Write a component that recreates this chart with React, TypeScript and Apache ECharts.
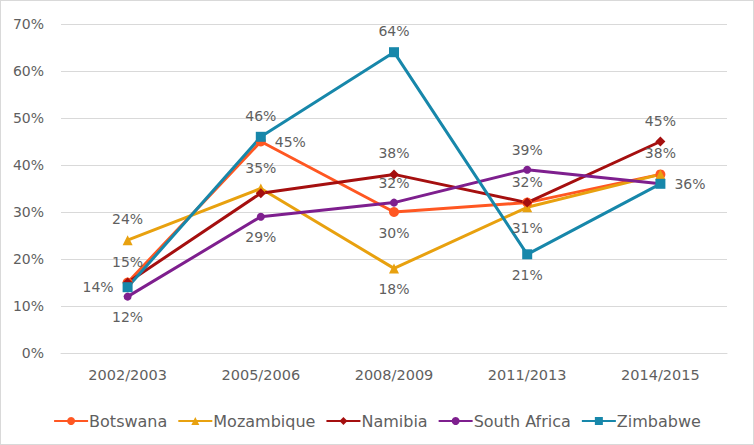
import React, { useEffect, useRef } from "react";
import * as echarts from "echarts";

const categories = ["2002/2003", "2005/2006", "2008/2009", "2011/2013", "2014/2015"];
const botswana = [15, 45, 30, 32, 38];
const mozambique = [24, 35, 18, 31, 38];
const namibia = [15, 34, 38, 32, 45];
const southAfrica = [12, 29, 32, 39, 36];
const zimbabwe = [14, 46, 64, 21, 36];

// label placement per point ("" = hidden)
const botswanaLabels = ["", "right", "bottom", "", "top"];
const mozambiqueLabels = ["top", "top", "bottom", "bottom", ""];
const namibiaLabels = ["top", "", "top", "top", "top"];
const southAfricaLabels = ["bottom", "bottom", "top", "top", ""];
const zimbabweLabels = ["left", "top", "top", "bottom", "right"];

const FONT = "'DejaVu Sans', sans-serif";
const TEXT = "#5f5f5f";

function build(name: string, values: number[], labels: string[], color: string, symbol: string, size: number) {
  return {
    name,
    type: "line",
    data: values.map((v, i) => ({
      value: v,
      label: labels[i]
        ? { show: true, position: labels[i], formatter: "{c}%", distance: 9 }
        : { show: false },
    })),
    symbol,
    symbolSize: size,
    itemStyle: { color },
    lineStyle: { color, width: 3 },
    label: { color: TEXT, fontSize: 14, fontFamily: FONT },
  };
}

export default function App() {
  const ref = useRef<HTMLDivElement>(null);
  useEffect(() => {
    const chart = echarts.init(ref.current!, null, { renderer: "svg" });
    chart.setOption({
      animation: false,
      backgroundColor: "#ffffff",
      grid: { left: 60, right: 26, top: 23, bottom: 91 },
      legend: {
        bottom: 10,
        left: "center",
        itemWidth: 34,
        itemHeight: 10,
        itemGap: 10,
        textStyle: { color: TEXT, fontSize: 16, fontFamily: FONT, padding: [0, 0, 0, -4] },
        data: ["Botswana", "Mozambique", "Namibia", "South Africa", "Zimbabwe"],
      },
      xAxis: {
        type: "category",
        data: categories,
        boundaryGap: true,
        axisLine: { lineStyle: { color: "#d9d9d9" } },
        axisTick: { show: false },
        axisLabel: { color: TEXT, fontSize: 14.5, fontFamily: FONT, margin: 14 },
      },
      yAxis: {
        type: "value",
        min: 0,
        max: 70,
        interval: 10,
        axisLine: { show: false },
        axisTick: { show: false },
        axisLabel: { color: TEXT, fontSize: 14, fontFamily: FONT, formatter: "{value}%", margin: 17 },
        splitLine: { lineStyle: { color: "#d9d9d9" } },
      },
      series: [
        build("Botswana", botswana, botswanaLabels, "#FF5722", "circle", 10),
        build("Mozambique", mozambique, mozambiqueLabels, "#E8A10F", "triangle", 10),
        build("Namibia", namibia, namibiaLabels, "#A50F0F", "diamond", 10),
        build("South Africa", southAfrica, southAfricaLabels, "#7E1F8E", "circle", 8),
        build("Zimbabwe", zimbabwe, zimbabweLabels, "#1787AA", "rect", 10),
      ],
    });
    return () => chart.dispose();
  }, []);
  return (
    <div
      ref={ref}
      style={{
        position: "fixed",
        left: 0,
        top: 0,
        width: 754,
        height: 445,
        boxSizing: "border-box",
        border: "1px solid #d9d9d9",
      }}
    />
  );
}
